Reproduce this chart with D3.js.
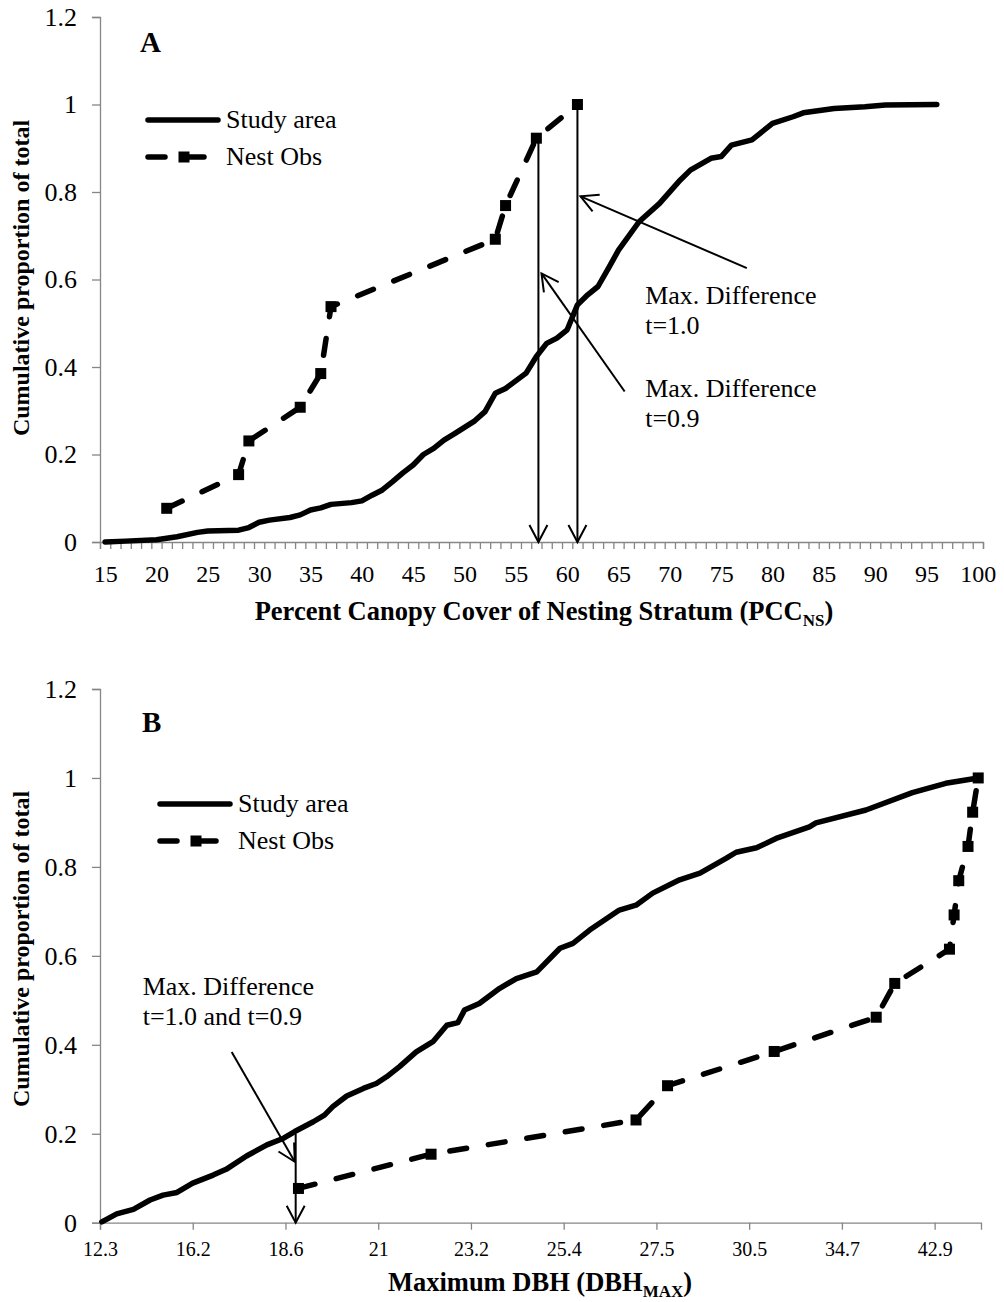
<!DOCTYPE html>
<html>
<head>
<meta charset="utf-8">
<script src="https://cdn.jsdelivr.net/npm/d3@7"></script>
<style>
  body { margin: 0; background: #fff; }
  svg text { font-family: "Liberation Serif", "Times New Roman", serif; fill: #000; }
</style>
</head>
<body>
<svg id="chart" width="1004" height="1302"></svg>
<script>
// ---- data: panel A (percent canopy cover, cumulative proportion) ----
const pccStudy = [
  [15, 0], [17, 0.002], [20, 0.005], [22, 0.012], [24, 0.022], [25, 0.025], [28, 0.027],
  [29, 0.033], [30, 0.045], [31, 0.05], [33, 0.056], [34, 0.062], [35, 0.073], [36, 0.078],
  [37, 0.086], [39, 0.09], [40, 0.094], [41, 0.107], [42, 0.119], [43, 0.138], [44, 0.158],
  [45, 0.176], [46, 0.2], [47, 0.214], [48, 0.233], [49, 0.247], [50, 0.262], [51, 0.277],
  [52, 0.298], [53, 0.34], [54, 0.351], [56, 0.386], [57, 0.424], [58, 0.454], [59, 0.466],
  [60, 0.485], [61, 0.542], [62, 0.565], [63, 0.584], [64, 0.625], [65, 0.667], [67, 0.732],
  [69, 0.774], [71, 0.827], [72, 0.85], [74, 0.877], [75, 0.881], [76, 0.907], [78, 0.919],
  [80, 0.957], [82, 0.972], [83, 0.981], [86, 0.991], [89, 0.995], [91, 0.999], [96, 1.0]
];
const pccNest = [
  [21, 0.077], [28, 0.154], [29, 0.231], [34, 0.308], [36, 0.385], [37, 0.538],
  [53, 0.692], [54, 0.769], [57, 0.923], [61, 1.0]
];
const pccLabels = d3.range(15, 101, 5);
const pccArrows = [
  { from: [57.2, 0.923], to: [57.2, 0] },
  { from: [61, 1.0], to: [61, 0] },
  { from: [77.5, 0.626], to: [61.3, 0.79] },
  { from: [65.6, 0.344], to: [57.5, 0.614] }
];
const pccNotes = [
  { at: [67.6, 0.544], lines: ["Max. Difference", "t=1.0"] },
  { at: [67.6, 0.331], lines: ["Max. Difference", "t=0.9"] }
];

// ---- data: panel B (max DBH, category position along the axis) ----
const dbhLabels = ["12.3", "16.2", "18.6", "21", "23.2", "25.4", "27.5", "30.5", "34.7", "42.9"];
const dbhStudy = [
  [0.02, 0.002], [0.18, 0.02], [0.36, 0.03], [0.54, 0.051], [0.68, 0.062], [0.83, 0.068],
  [1.0, 0.089], [1.22, 0.107], [1.36, 0.12], [1.58, 0.15], [1.8, 0.175], [1.98, 0.19],
  [2.1, 0.205], [2.3, 0.227], [2.42, 0.242], [2.51, 0.261], [2.66, 0.285], [2.84, 0.302],
  [2.98, 0.313], [3.09, 0.328], [3.23, 0.351], [3.41, 0.384], [3.59, 0.407], [3.74, 0.444],
  [3.86, 0.45], [3.93, 0.478], [4.09, 0.493], [4.31, 0.527], [4.49, 0.549], [4.71, 0.564],
  [4.96, 0.617], [5.1, 0.628], [5.28, 0.658], [5.6, 0.703], [5.78, 0.714], [5.96, 0.741],
  [6.25, 0.771], [6.47, 0.786], [6.75, 0.819], [6.86, 0.833], [7.08, 0.843], [7.29, 0.864],
  [7.65, 0.89], [7.72, 0.899], [8.26, 0.928], [8.76, 0.967], [9.12, 0.988], [9.47, 1.0]
];
const dbhNest = [
  [2.14, 0.077], [3.57, 0.154], [5.78, 0.231], [6.12, 0.308], [7.27, 0.385], [8.37, 0.462],
  [8.57, 0.538], [9.16, 0.615], [9.21, 0.692], [9.26, 0.769], [9.36, 0.846], [9.41, 0.923],
  [9.47, 1.0]
];
const dbhArrows = [
  { from: [2.11, 0.2], to: [2.11, 0] },
  { from: [1.42, 0.384], to: [2.1, 0.137] }
];
const dbhNotes = [
  { at: [0.46, 0.512], lines: ["Max. Difference", "t=1.0 and t=0.9"] }
];

const yTicks = [0, 0.2, 0.4, 0.6, 0.8, 1, 1.2];
const seriesNames = ["Study area", "Nest Obs"];

const svg = d3.select("#chart");
const grey = "#868686";
const serif = '"Liberation Serif", "Times New Roman", serif';

// open arrow head
svg.append("defs").append("marker")
  .attr("id", "arrow")
  .attr("viewBox", "-20 -12 24 24")
  .attr("refX", 0).attr("refY", 0)
  .attr("markerWidth", 24).attr("markerHeight", 24)
  .attr("markerUnits", "userSpaceOnUse")
  .attr("orient", "auto")
  .append("path")
  .attr("d", "M-17,-9L0,0L-17,9")
  .attr("fill", "none").attr("stroke", "#000").attr("stroke-width", 2);

function tidy(g, size) {
  g.attr("font-family", serif).attr("font-size", size);
  g.selectAll(".domain, .tick line").attr("stroke", grey).attr("stroke-width", 1.3);
  g.selectAll("text").attr("fill", "#000");
}

function drawPanel(p) {
  const { x, y } = p;
  const g = svg.append("g");
  const x0 = x.range()[0];
  const y0 = y.range()[0];

  // y axis
  g.append("g")
    .attr("transform", `translate(${x0},0)`)
    .call(d3.axisLeft(y).tickValues(yTicks).tickSize(8).tickPadding(15).tickFormat(d => String(d)))
    .call(a => tidy(a, 26));

  // x axis
  p.xAxis(g.append("g").attr("transform", `translate(0,${y0})`));

  // titles
  g.append("text")
    .attr("transform", `translate(29,${p.yTitleY}) rotate(-90)`)
    .attr("text-anchor", "middle")
    .attr("font-weight", "bold").attr("font-size", 24)
    .text("Cumulative proportion of total");

  const xt = g.append("text")
    .attr("x", p.xTitleX).attr("y", p.xTitleY)
    .attr("text-anchor", "middle")
    .attr("font-weight", "bold").attr("font-size", 26.5);
  xt.append("tspan").text(p.xTitle[0]);
  xt.append("tspan").attr("dy", 6).attr("font-size", 17).text(p.xTitle[1]);
  xt.append("tspan").attr("dy", -6).text(")");

  g.append("text")
    .attr("x", p.letter[1]).attr("y", p.letter[2])
    .attr("font-weight", "bold").attr("font-size", 29)
    .text(p.letter[0]);

  // lines
  const line = d3.line().x(d => x(d[0])).y(d => y(d[1]));
  g.append("path").datum(p.study)
    .attr("d", line)
    .attr("fill", "none").attr("stroke", "#000").attr("stroke-width", 5.5)
    .attr("stroke-linejoin", "round").attr("stroke-linecap", "round");

  g.append("path").datum(p.nest)
    .attr("d", line)
    .attr("fill", "none").attr("stroke", "#000").attr("stroke-width", 5.5)
    .attr("stroke-dasharray", "17,22").attr("stroke-linecap", "round");

  g.selectAll("rect.nest").data(p.nest).join("rect")
    .attr("class", "nest")
    .attr("x", d => x(d[0]) - 5.5).attr("y", d => y(d[1]) - 5.5)
    .attr("width", 11).attr("height", 11).attr("fill", "#000");

  // annotations
  g.selectAll("line.arrow").data(p.arrows).join("line")
    .attr("class", "arrow")
    .attr("x1", d => x(d.from[0])).attr("y1", d => y(d.from[1]))
    .attr("x2", d => x(d.to[0])).attr("y2", d => y(d.to[1]))
    .attr("stroke", "#000").attr("stroke-width", 2)
    .attr("marker-end", "url(#arrow)");

  p.notes.forEach(n => {
    const t = g.append("text").attr("font-size", 26);
    n.lines.forEach((s, i) => {
      t.append("tspan").attr("x", x(n.at[0])).attr("y", y(n.at[1]) + i * 30).text(s);
    });
  });

  // legend
  const [lx, ly] = p.legend;
  const leg = g.append("g").attr("transform", `translate(${lx},${ly})`);
  leg.append("line").attr("x1", 0).attr("x2", 70).attr("y1", 0).attr("y2", 0)
    .attr("stroke", "#000").attr("stroke-width", 5.5).attr("stroke-linecap", "round");
  leg.append("line").attr("x1", 0).attr("x2", 62).attr("y1", 37).attr("y2", 37)
    .attr("stroke", "#000").attr("stroke-width", 5.5)
    .attr("stroke-dasharray", "17,22").attr("stroke-linecap", "round");
  leg.append("rect").attr("x", 30.5).attr("y", 31.5).attr("width", 11).attr("height", 11);
  leg.selectAll("text").data(seriesNames).join("text")
    .attr("x", 78).attr("y", (d, i) => 8 + i * 37)
    .attr("font-size", 26)
    .text(d => d);
}

// ---- panel A ----
const xA = d3.scaleLinear().domain([14.5, 100.5]).range([100, 983]);
const yA = d3.scaleLinear().domain([0, 1.2]).range([542, 17]);

drawPanel({
  x: xA, y: yA,
  study: pccStudy, nest: pccNest,
  arrows: pccArrows, notes: pccNotes,
  letter: ["A", 140, 52],
  legend: [148, 120],
  yTitleY: 278,
  xTitleX: 544,
  xTitleY: 620,
  xTitle: ["Percent Canopy Cover of Nesting Stratum (PCC", "NS"],
  xAxis: g => {
    g.call(d3.axisBottom(xA).tickValues(d3.range(14.5, 101, 1)).tickSize(7).tickFormat(""))
      .call(a => tidy(a, 24));
    g.append("g")
      .call(d3.axisBottom(xA).tickValues(pccLabels).tickSize(0).tickPadding(23))
      .call(a => { tidy(a, 24); a.select(".domain").remove(); });
  }
});

// ---- panel B ----
const xB = d3.scaleLinear().domain([0, 9.5]).range([100, 981]);
const yB = d3.scaleLinear().domain([0, 1.2]).range([1222.7, 689]);

drawPanel({
  x: xB, y: yB,
  study: dbhStudy, nest: dbhNest,
  arrows: dbhArrows, notes: dbhNotes,
  letter: ["B", 142, 732],
  legend: [160, 804],
  yTitleY: 949,
  xTitleX: 540,
  xTitleY: 1291,
  xTitle: ["Maximum DBH (DBH", "MAX"],
  xAxis: g => {
    g.call(d3.axisBottom(xB).tickValues(d3.range(dbhLabels.length)).tickSize(7).tickPadding(12)
        .tickFormat(i => dbhLabels[i]))
      .call(a => tidy(a, 20));
  }
});
</script>
</body>
</html>
